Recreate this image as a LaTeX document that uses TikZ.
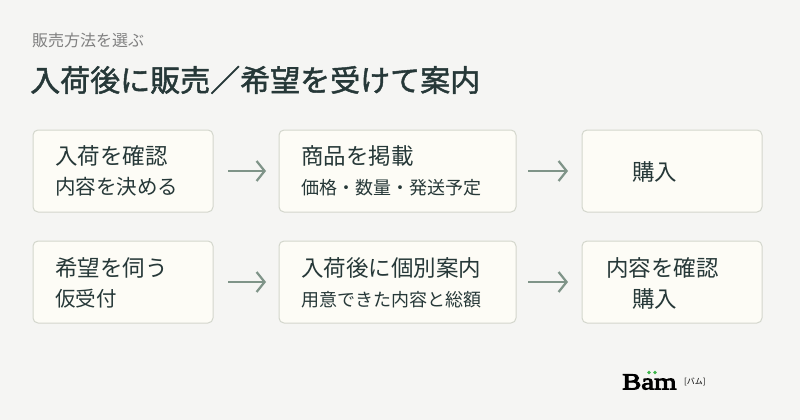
\documentclass[tikz,border=0pt]{standalone}
\usepackage{fontspec}
\newfontfamily\cjk{Noto Sans CJK JP}
\newfontfamily\cjkb{Noto Sans CJK JP}[FakeBold=1.5]
\newfontfamily\logof{Liberation Serif}[FakeBold=4,FakeStretch=1.25]
\usetikzlibrary{arrows.meta}
\begin{document}
\begin{tikzpicture}[x=1pt,y=-1pt,
 box/.style={draw=boxline,fill=boxfill,rounded corners=5pt,line width=1pt},
 t/.style={anchor=west,inner sep=0,text=txt,font=\cjk},
 arr/.style={draw=arrc,line width=2.2pt,-{Straight Barb[length=8pt,width=20pt,line width=2.2pt]}}]
\definecolor{bg}{HTML}{F5F5F3}\definecolor{boxline}{HTML}{D3D6CC}
\definecolor{boxfill}{HTML}{FDFCF6}\definecolor{txt}{HTML}{263838}
\definecolor{arrc}{HTML}{7F9488}\definecolor{sub}{HTML}{808080}
\definecolor{grn}{HTML}{3DB54A}
\fill[bg] (0,0) rectangle (800,420);
\node[t,text=sub,font=\cjk\fontsize{16}{16}\selectfont] (h) at (32,40) {販売方法を選ぶ};
\node[t,font=\cjkb\fontsize{30}{30}\selectfont] (ti) at (30,80) {入荷後に販売／希望を受けて案内};
\draw[box] (33,130) rectangle (213,212);
\draw[box] (279,130) rectangle (516,212);
\draw[box] (582,130) rectangle (762,212);
\draw[box] (33,241) rectangle (213,323);
\draw[box] (279,241) rectangle (516,323);
\draw[box] (582,241) rectangle (762,323);
\coordinate (a1) at (228,171);\coordinate (a2) at (266,171);
\coordinate (a3) at (528,171);\coordinate (a4) at (568,171);
\coordinate (a5) at (228,282);\coordinate (a6) at (266,282);
\coordinate (a7) at (528,282);\coordinate (a8) at (568,282);
\draw[arr] (a1)--(a2);\draw[arr] (a3)--(a4);\draw[arr] (a5)--(a6);\draw[arr] (a7)--(a8);
\node[t,font=\cjk\fontsize{22.5}{22.5}\selectfont] (x1) at (55,156) {入荷を確認};
\node[t,font=\cjk\fontsize{20.5}{20.5}\selectfont] (x2) at (55,187) {内容を決める};
\node[t,font=\cjk\fontsize{22.5}{22.5}\selectfont] (x3) at (301,156) {商品を掲載};
\node[t,font=\cjk\fontsize{18}{18}\selectfont] (x4) at (301,188) {価格・数量・発送予定};
\node[t,font=\cjk\fontsize{22.5}{22.5}\selectfont] (x5) at (632,172) {購入};
\node[t,font=\cjk\fontsize{22.5}{22.5}\selectfont] (y1) at (55,268) {希望を伺う};
\node[t,font=\cjk\fontsize{20.5}{20.5}\selectfont] (y2) at (55,299) {仮受付};
\node[t,font=\cjk\fontsize{22.5}{22.5}\selectfont] (y3) at (301,268) {入荷後に個別案内};
\node[t,font=\cjk\fontsize{18}{18}\selectfont] (y4) at (301,300) {用意できた内容と総額};
\node[t,font=\cjk\fontsize{22.5}{22.5}\selectfont] (y5) at (606,268) {内容を確認};
\node[t,font=\cjk\fontsize{22.5}{22.5}\selectfont] (y6) at (632,299) {購入};
\node[anchor=west,inner sep=0,font=\logof\fontsize{23}{23}\selectfont] (lg) at (622,382) {Bam};
\fill[grn] (649,372.5) circle (1.8) (655,372.5) circle (1.8);
\node[anchor=west,inner sep=0,font=\cjk\fontsize{8}{8}\selectfont] (lk) at (684,382) {[バム]};
\end{tikzpicture}
\end{document}
